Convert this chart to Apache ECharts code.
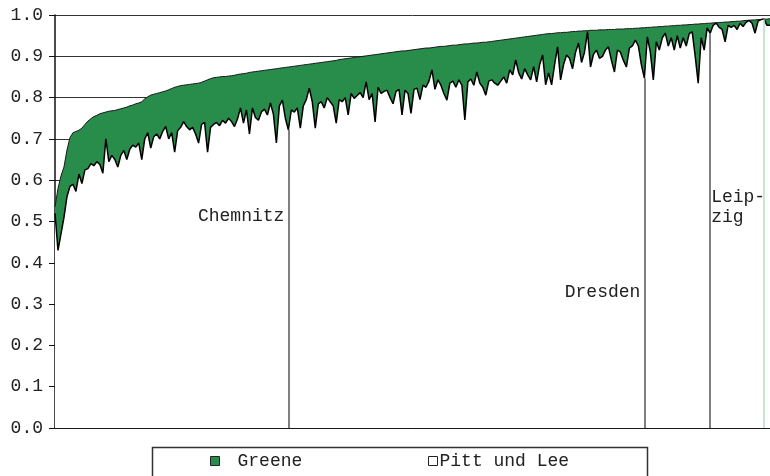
<!DOCTYPE html>
<html>
<head>
<meta charset="utf-8">
<script src="https://cdn.jsdelivr.net/npm/echarts@6/dist/echarts.min.js"></script>
<style>html,body{margin:0;padding:0;background:#fff}#c{width:770px;height:476px}</style>
</head>
<body>
<div id="c"></div>
<script>
var greene = [
0.535,0.58,0.61,0.632,0.673,0.703,0.715,0.718,0.721,0.726,
0.735,0.743,0.749,0.754,0.757,0.761,0.763,0.765,0.767,0.768,
0.769,0.771,0.773,0.775,0.777,0.780,0.782,0.785,0.787,0.790,
0.797,0.802,0.806,0.808,0.810,0.812,0.814,0.816,0.819,0.822,
0.825,0.827,0.829,0.830,0.831,0.832,0.833,0.834,0.835,0.837,
0.840,0.843,0.846,0.848,0.849,0.850,0.851,0.851,0.852,0.853,
0.854,0.856,0.857,0.858,0.859,0.861,0.862,0.863,0.864,0.865,
0.866,0.867,0.868,0.869,0.870,0.871,0.872,0.873,0.874,0.875,
0.876,0.877,0.878,0.879,0.880,0.881,0.882,0.883,0.884,0.885,
0.886,0.887,0.888,0.889,0.890,0.892,0.893,0.894,0.895,0.896,
0.897,0.898,0.899,0.900,0.901,0.902,0.903,0.904,0.905,0.906,
0.907,0.908,0.909,0.910,0.911,0.912,0.913,0.913,0.914,0.915,
0.916,0.917,0.918,0.919,0.920,0.920,0.921,0.922,0.923,0.924,
0.924,0.925,0.926,0.927,0.927,0.928,0.929,0.930,0.930,0.931,
0.932,0.932,0.933,0.934,0.934,0.935,0.936,0.937,0.938,0.939,
0.940,0.941,0.942,0.943,0.944,0.945,0.946,0.947,0.948,0.949,
0.950,0.951,0.952,0.953,0.954,0.955,0.955,0.956,0.957,0.957,
0.958,0.958,0.959,0.960,0.960,0.961,0.961,0.962,0.962,0.963,
0.963,0.963,0.964,0.964,0.964,0.965,0.965,0.965,0.966,0.966,
0.966,0.967,0.967,0.967,0.968,0.968,0.969,0.969,0.970,0.970,
0.971,0.971,0.972,0.972,0.973,0.973,0.974,0.974,0.975,0.975,
0.976,0.976,0.977,0.977,0.978,0.978,0.979,0.979,0.980,0.980,
0.981,0.981,0.982,0.982,0.983,0.983,0.984,0.984,0.985,0.985,
0.986,0.987,0.987,0.988,0.988,0.989,0.989,0.990,0.990,0.991
];
var pittLee = [
0.52,0.43,0.47,0.51,0.56,0.585,0.59,0.573,0.615,0.592,
0.625,0.628,0.64,0.635,0.645,0.638,0.617,0.70,0.645,0.66,
0.65,0.632,0.66,0.672,0.65,0.675,0.685,0.68,0.69,0.65,
0.70,0.715,0.678,0.705,0.712,0.70,0.718,0.73,0.70,0.715,
0.668,0.72,0.728,0.742,0.73,0.722,0.728,0.712,0.69,0.735,
0.74,0.668,0.728,0.735,0.74,0.732,0.745,0.738,0.75,0.742,
0.73,0.748,0.775,0.738,0.77,0.712,0.775,0.752,0.745,0.765,
0.772,0.758,0.787,0.76,0.69,0.78,0.794,0.75,0.722,0.77,
0.765,0.775,0.726,0.78,0.795,0.823,0.79,0.726,0.785,0.79,
0.775,0.80,0.79,0.78,0.738,0.795,0.79,0.80,0.758,0.81,
0.798,0.805,0.812,0.80,0.838,0.795,0.81,0.741,0.825,0.81,
0.815,0.818,0.80,0.785,0.815,0.82,0.758,0.818,0.81,0.762,
0.82,0.823,0.795,0.83,0.825,0.84,0.867,0.82,0.843,0.83,
0.81,0.794,0.835,0.84,0.825,0.843,0.83,0.746,0.838,0.845,
0.83,0.862,0.835,0.825,0.806,0.84,0.843,0.835,0.83,0.84,
0.85,0.835,0.867,0.855,0.891,0.86,0.845,0.87,0.855,0.843,
0.875,0.838,0.88,0.903,0.831,0.86,0.831,0.88,0.923,0.843,
0.88,0.903,0.895,0.87,0.91,0.932,0.885,0.91,0.96,0.874,
0.905,0.915,0.895,0.90,0.915,0.923,0.89,0.862,0.915,0.91,
0.89,0.874,0.92,0.925,0.939,0.925,0.88,0.847,0.947,0.91,
0.843,0.935,0.915,0.945,0.956,0.925,0.945,0.915,0.95,0.92,
0.945,0.925,0.955,0.959,0.90,0.835,0.945,0.915,0.969,0.956,
0.975,0.981,0.97,0.965,0.935,0.975,0.97,0.975,0.965,0.98,
0.972,0.982,0.987,0.98,0.956,0.985,0.989,0.99,0.975,0.975
];
var cityNames = ['Chemnitz', 'Dresden', 'Leip-\nzig', ''];
var cityIndex = [78, 197, 219, 237];
var cityLabelY = [0.513, 0.329, 0.535, 0];
var seriesNames = ['Greene', 'Pitt und Lee'];

var categories = greene.map(function (_, i) { return String(i + 1); });
var FONT = "'Courier New', 'Liberation Mono', monospace";
var FS = 18;
var GREEN = '#288c4b';

var lineData = cityIndex.map(function (idx, k) {
  return [
    { coord: [categories[idx], 0] },
    { coord: [categories[idx], pittLee[idx]],
      lineStyle: { color: k === 3 ? '#b5dcbf' : '#555', width: 1.5, type: 'solid' } }
  ];
});
var labelData = [];
cityNames.forEach(function (name, k) {
  if (!name) return;
  var right = (k === 2);
  labelData.push({
    coord: [categories[cityIndex[k]], cityLabelY[k]],
    symbol: 'rect', symbolSize: 0,
    label: {
      show: true, formatter: name, position: right ? 'right' : 'left',
      distance: right ? 1 : 4, color: '#222', fontFamily: FONT, fontSize: FS, lineHeight: 20,
      align: right ? 'left' : 'right'
    }
  });
});

var chart = echarts.init(document.getElementById('c'), null, { renderer: 'canvas' });
chart.setOption({
  animation: false,
  backgroundColor: '#fff',
  grid: { left: 55, right: 0, top: 15, bottom: 48, containLabel: false },
  xAxis: {
    type: 'category', data: categories, boundaryGap: false,
    axisLine: { show: true, lineStyle: { color: '#111', width: 1.5 } },
    axisTick: { show: false }, axisLabel: { show: false }, splitLine: { show: false }
  },
  yAxis: {
    type: 'value', min: 0, max: 1, interval: 0.1,
    axisLine: { show: true, lineStyle: { color: '#111', width: 1.5 } },
    axisTick: { show: true, length: 6, lineStyle: { color: '#111' } },
    axisLabel: { margin: 12, color: '#222', fontFamily: FONT, fontSize: FS,
      formatter: function (v) { return v.toFixed(1); } },
    splitLine: { show: true, lineStyle: { color: '#333', width: 1 } }
  },
  legend: [
    { data: [{ name: seriesNames[0], icon: 'rect', itemStyle: { color: GREEN, borderColor: '#222', borderWidth: 1 } }],
      left: 210, top: 452, padding: 0, itemWidth: 9, itemHeight: 9, itemGap: 0,
      textStyle: { color: '#222', fontFamily: FONT, fontSize: FS, padding: [0, 0, 0, 13] } },
    { data: [{ name: seriesNames[1], icon: 'rect', itemStyle: { color: '#fff', borderColor: '#222', borderWidth: 1 } }],
      left: 428, top: 452, padding: 0, itemWidth: 9, itemHeight: 9, itemGap: 0,
      textStyle: { color: '#222', fontFamily: FONT, fontSize: FS, padding: [0, 0, 0, -3] } }
  ],
  graphic: [
    { type: 'rect', left: 150, top: 445, shape: { width: 495, height: 40 },
      style: { fill: 'none', stroke: '#333', lineWidth: 1.5 }, z: -1 }
  ],
  series: [
    { name: seriesNames[0], type: 'line', data: greene, symbol: 'none', z: 2,
      lineStyle: { color: '#1a1a1a', width: 1 },
      itemStyle: { color: GREEN },
      areaStyle: { color: GREEN, opacity: 1, origin: 'start' } },
    { name: seriesNames[1], type: 'line', data: pittLee, symbol: 'none', z: 3,
      lineStyle: { color: '#000', width: 1.5 },
      itemStyle: { color: '#fff' },
      areaStyle: { color: '#fff', opacity: 1, origin: 'start' },
      markLine: { silent: true, symbol: ['none', 'none'], label: { show: false }, data: lineData },
      markPoint: { silent: true, data: labelData } }
  ]
});
</script>
</body>
</html>
